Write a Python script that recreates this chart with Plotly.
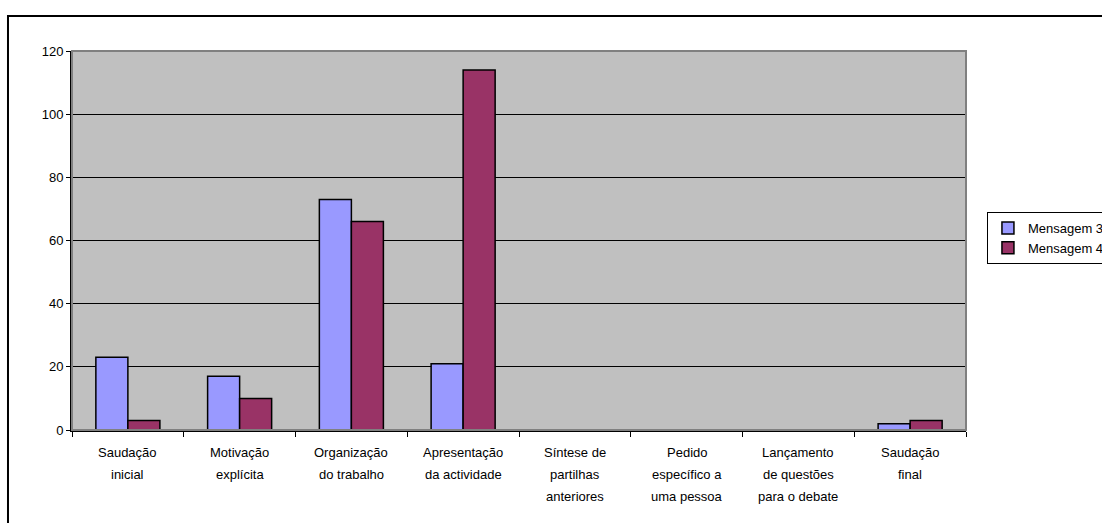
import plotly.graph_objects as go

# categories, one list per label line
categories = [
    "Saudação inicial",
    "Motivação explícita",
    "Organização do trabalho",
    "Apresentação da actividade",
    "Síntese de partilhas anteriores",
    "Pedido específico a uma pessoa",
    "Lançamento de questões para o debate",
    "Saudação final",
]
label_lines = [
    ["Saudação", "inicial"],
    ["Motivação", "explícita"],
    ["Organização", "do trabalho"],
    ["Apresentação", "da actividade"],
    ["Síntese de", "partilhas", "anteriores"],
    ["Pedido", "específico a", "uma pessoa"],
    ["Lançamento", "de questões", "para o debate"],
    ["Saudação", "final"],
]
mensagem_3 = [23, 17, 73, 21, 0, 0, 0, 2]
mensagem_4 = [3, 10, 66, 114, 0, 0, 0, 3]
y_ticks = [0, 20, 40, 60, 80, 100, 120]

FONT = "Liberation Sans, Arial, sans-serif"

fig = go.Figure()
fig.add_trace(go.Bar(
    x=categories, y=mensagem_3, name="Mensagem 3",
    marker=dict(color="#9999FF", line=dict(color="black", width=1.5)),
))
fig.add_trace(go.Bar(
    x=categories, y=mensagem_4, name="Mensagem 4",
    marker=dict(color="#993366", line=dict(color="black", width=1.5)),
))

# multi-line category labels, spaced like the original
annotations = []
for cat, lines in zip(categories, label_lines):
    for i, txt in enumerate(lines):
        annotations.append(dict(
            x=cat, xref="x", y=0, yref="paper",
            text=txt, showarrow=False, yanchor="middle",
            yshift=-22 * (i + 1),
            font=dict(family=FONT, size=13, color="black"),
        ))

fig.update_layout(
    width=1102, height=523,
    margin=dict(l=72, r=136, t=51, b=93),
    paper_bgcolor="white",
    plot_bgcolor="#C0C0C0",
    barmode="group",
    bargap=0.427,
    bargroupgap=0,
    font=dict(family=FONT, size=13, color="black"),
    showlegend=True,
    legend=dict(
        xref="container", yref="container",
        x=0.8956, xanchor="left", y=0.5946, yanchor="top",
        bgcolor="white", bordercolor="black", borderwidth=1,
        font=dict(family=FONT, size=13, color="black"),
        tracegroupgap=0, itemwidth=30,
    ),
    annotations=annotations,
    shapes=[
        # plot area border (grey)
        dict(type="rect", xref="paper", yref="paper", x0=0, x1=1, y0=0, y1=1,
             line=dict(color="#808080", width=2), layer="above"),
        # outer chart frame
        dict(type="rect", xref="paper", yref="paper",
             x0=-0.0716, x1=1.161, y0=-0.264, y1=1.0923,
             line=dict(color="black", width=2), layer="above"),
    ],
)

fig.update_xaxes(
    showticklabels=False,
    showline=True, linecolor="black", linewidth=2,
    ticks="outside", tickson="boundaries", ticklen=5,
    tickcolor="black", tickwidth=1,
    showgrid=False, zeroline=False,
)
fig.update_yaxes(
    range=[0, 120], tickvals=y_ticks,
    showline=True, linecolor="black", linewidth=2,
    ticks="outside", ticklen=4, tickcolor="black", tickwidth=1,
    showgrid=True, gridcolor="black", gridwidth=1,
    zeroline=False,
    tickfont=dict(family=FONT, size=13, color="black"),
)

fig.write_html(
    "out.html",
    config={"responsive": False, "displayModeBar": False},
    post_script="document.body.style.margin='0';document.body.style.overflow='hidden';",
)
